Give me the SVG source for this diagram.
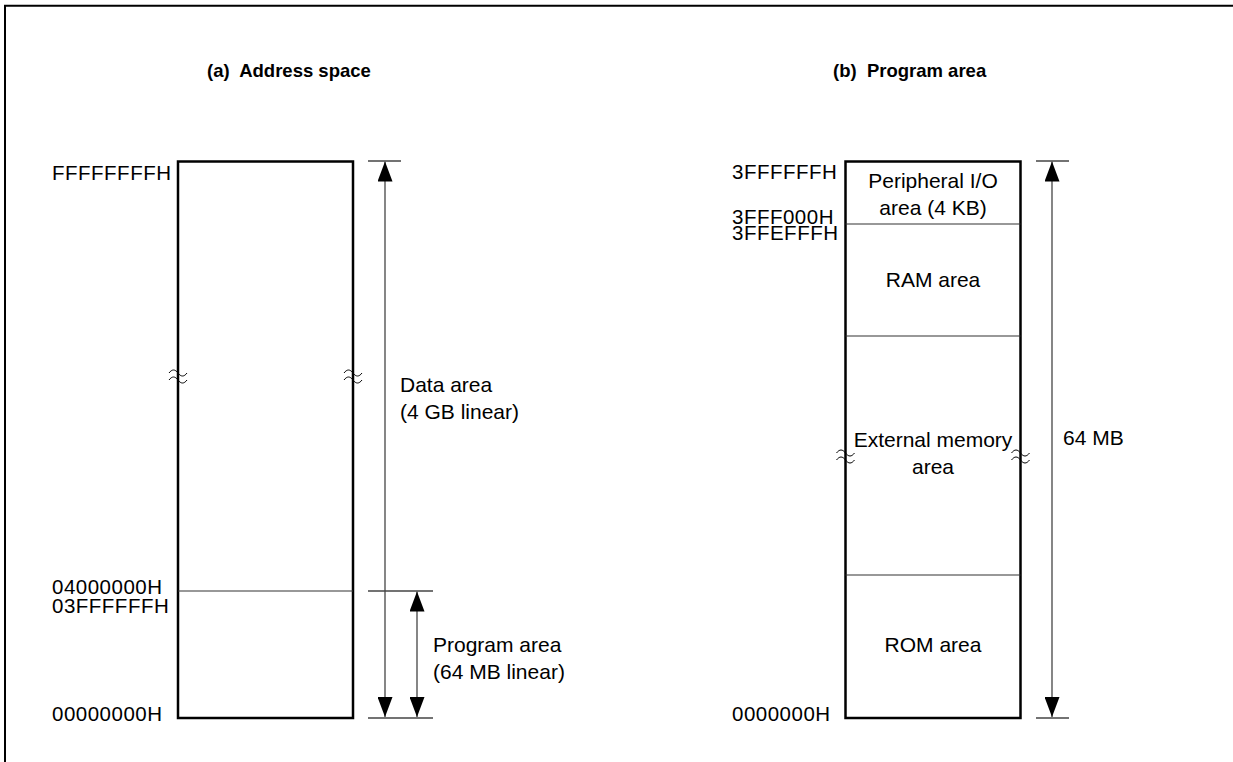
<svg xmlns="http://www.w3.org/2000/svg" width="1233" height="762" viewBox="0 0 1233 762">
<defs>
<marker id="ah" markerUnits="userSpaceOnUse" markerWidth="20" markerHeight="15" refX="20" refY="7.5" orient="auto-start-reverse" viewBox="0 0 20 15">
<path d="M0,0 L20,7.5 L0,15 z" fill="#000"/>
</marker>
</defs>
<style>
text{font-family:"Liberation Sans",Arial,sans-serif;font-size:21px;fill:#000}
.title{font-weight:bold;font-size:18.5px}
.hex{font-size:20.5px;letter-spacing:0.5px}
.c{text-anchor:middle}
.box{fill:none;stroke:#000;stroke-width:2.5}
.div{stroke:#333;stroke-width:1.2}
.dim{stroke:#444;stroke-width:1.3;fill:none}
.arr{stroke:#444;stroke-width:1.3;fill:none;marker-start:url(#ah);marker-end:url(#ah)}
.brk{stroke:#000;stroke-width:1;fill:none}
</style>
<rect width="1233" height="762" fill="#fff"/>
<path d="M5,762 V5.7 H1233" fill="none" stroke="#000" stroke-width="2"/>

<text class="title" x="207" y="77" xml:space="preserve">(a)  Address space</text>
<text class="title" x="833" y="77" xml:space="preserve">(b)  Program area</text>

<g id="address-space">
<rect class="box" x="178" y="161.5" width="175" height="556.5"/>
<line class="div" x1="178" y1="591" x2="353" y2="591"/>
<path class="brk" d="M169,373 C172,369 175,369 178,373 C181,377 184,377 187,373 M169,380 C172,376 175,376 178,380 C181,384 184,384 187,380"/>
<path class="brk" d="M344,373 C347,369 350,369 353,373 C356,377 359,377 362,373 M344,380 C347,376 350,376 353,380 C356,384 359,384 362,380"/>
<text class="hex" x="52" y="180">FFFFFFFFH</text>
<text class="hex" x="52" y="594">04000000H</text>
<text class="hex" x="52" y="613">03FFFFFFH</text>
<text class="hex" x="52" y="721">00000000H</text>
</g>

<g id="program-area">
<rect class="box" x="845.5" y="161.5" width="175" height="556.5"/>
<line class="div" x1="845.5" y1="224" x2="1020.5" y2="224"/>
<line class="div" x1="845.5" y1="336" x2="1020.5" y2="336"/>
<line class="div" x1="845.5" y1="575" x2="1020.5" y2="575"/>
<path class="brk" d="M836.5,453 C839.5,449 842.5,449 845.5,453 C848.5,457 851.5,457 854.5,453 M836.5,460 C839.5,456 842.5,456 845.5,460 C848.5,464 851.5,464 854.5,460"/>
<path class="brk" d="M1011.5,453 C1014.5,449 1017.5,449 1020.5,453 C1023.5,457 1026.5,457 1029.5,453 M1011.5,460 C1014.5,456 1017.5,456 1020.5,460 C1023.5,464 1026.5,464 1029.5,460"/>
<text class="hex" x="732" y="179">3FFFFFFH</text>
<text class="hex" x="732" y="224">3FFF000H</text>
<text class="hex" x="732" y="240">3FFEFFFH</text>
<text class="hex" x="732" y="721">0000000H</text>
</g>

<g id="peripheral-io"><text class="c" x="933" y="188">Peripheral I/O</text><text class="c" x="933" y="215">area (4 KB)</text></g>
<g id="ram-area"><text class="c" x="933" y="287">RAM area</text></g>
<g id="external-memory"><text class="c" x="933" y="447">External memory</text><text class="c" x="933" y="474">area</text></g>
<g id="rom-area"><text class="c" x="933" y="652">ROM area</text></g>

<g id="connectors">
<line class="dim" x1="368" y1="161" x2="401" y2="161"/>
<line class="dim" x1="368" y1="591" x2="433" y2="591"/>
<line class="dim" x1="368" y1="718" x2="433" y2="718"/>
<line class="arr" x1="385" y1="161.5" x2="385" y2="717"/>
<line class="arr" x1="417" y1="591.5" x2="417" y2="717"/>
<line class="dim" x1="1036" y1="161" x2="1069" y2="161"/>
<line class="dim" x1="1036" y1="718" x2="1069" y2="718"/>
<line class="arr" x1="1052" y1="161.5" x2="1052" y2="717"/>
</g>

<g id="labels">
<text x="400" y="392">Data area</text>
<text x="400" y="419">(4 GB linear)</text>
<text x="433" y="652">Program area</text>
<text x="433" y="679">(64 MB linear)</text>
<text x="1063" y="445">64 MB</text>
</g>
</svg>
